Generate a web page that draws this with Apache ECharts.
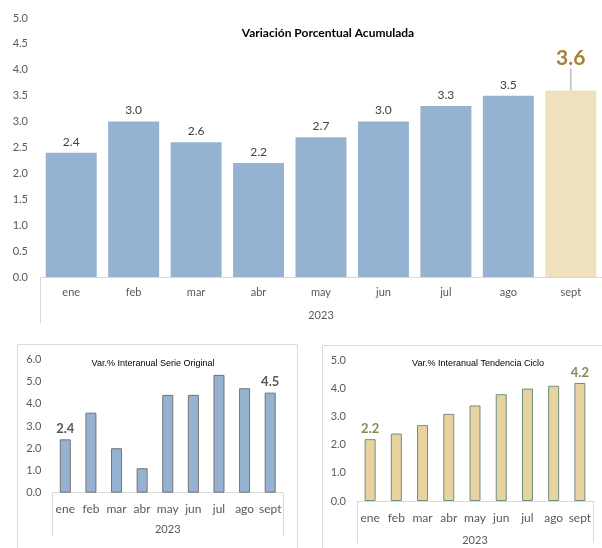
<!DOCTYPE html>
<html>
<head>
<meta charset="utf-8">
<script src="https://cdn.jsdelivr.net/npm/echarts@6/dist/echarts.min.js"></script>
<style>
  html, body { margin: 0; padding: 0; background: #fff; }
  #main { width: 602px; height: 548px; }
</style>
</head>
<body>
<div id="main"></div>
<script>
/* datos */
var meses = ['ene', 'feb', 'mar', 'abr', 'may', 'jun', 'jul', 'ago', 'sept'];
var anio = ['2023'];
var acumulada = [2.4, 3.0, 2.6, 2.2, 2.7, 3.0, 3.3, 3.5, 3.6];
var serieOriginal = [2.4, 3.6, 2.0, 1.1, 4.4, 4.4, 5.3, 4.7, 4.5];
var tendenciaCiclo = [2.2, 2.4, 2.7, 3.1, 3.4, 3.8, 4.0, 4.1, 4.2];

var fontMain = 'Lato, "Open Sans", sans-serif';
var fontSmall = '"Liberation Sans", Arial, sans-serif';
var gris = '#595959';
var linea = '#d9d9d9';
var ultimo = meses.length - 1;

/* etiqueta solo en el primero y el ultimo */
function extremos(color) {
    return {
        show: true,
        position: 'top',
        distance: 4,
        fontFamily: fontMain,
        fontSize: 13,
        fontWeight: 'bold',
        color: color,
        formatter: function (p) {
            return (p.dataIndex === 0 || p.dataIndex === ultimo) ? p.value.toFixed(1) : '';
        }
    };
}

function ejeMeses(grid, margin, size) {
    return {
        type: 'category',
        gridIndex: grid,
        data: meses,
        axisLine: { show: true, lineStyle: { color: linea } },
        axisTick: { show: false },
        axisLabel: { margin: margin, color: gris, fontSize: size, fontFamily: fontMain, interval: 0 }
    };
}

function ejeAnio(grid, tick, margin, size) {
    return {
        type: 'category',
        gridIndex: grid,
        position: 'bottom',
        data: anio,
        axisLine: { show: false },
        axisTick: { show: true, length: tick, lineStyle: { color: linea } },
        axisLabel: { margin: margin, color: gris, fontSize: size, fontFamily: fontMain }
    };
}

function ejeValor(grid, max, interval, margin) {
    return {
        type: 'value',
        gridIndex: grid,
        min: 0,
        max: max,
        interval: interval,
        axisLine: { show: false },
        axisTick: { show: false },
        splitLine: { show: false },
        axisLabel: {
            margin: margin,
            color: gris,
            fontSize: 11,
            fontFamily: fontMain,
            formatter: function (v) { return v.toFixed(1); }
        }
    };
}

var datosAcum = acumulada.map(function (v, i) {
    if (i !== ultimo) return v;
    return {
        value: v,
        itemStyle: { color: '#efe1bd' },
        label: { fontSize: 21, fontWeight: 'bold', color: '#a5823a' },
        labelLine: { show: true, lineStyle: { color: '#bfbfbf', width: 1.5 } }
    };
});

var option = {
    animation: false,
    backgroundColor: '#fff',
    title: [
        {
            text: 'Variación Porcentual Acumulada',
            left: 323, top: 22, textAlign: 'center',
            textStyle: { fontFamily: fontMain, fontSize: 12, fontWeight: 'bold', color: '#000' }
        },
        {
            text: 'Var.% Interanual Serie Original',
            left: 148, top: 354, textAlign: 'center',
            textStyle: { fontFamily: fontSmall, fontSize: 9, fontWeight: 'normal', color: '#000' }
        },
        {
            text: 'Var.% Interanual Tendencia Ciclo',
            left: 473, top: 354, textAlign: 'center',
            textStyle: { fontFamily: fontSmall, fontSize: 9, fontWeight: 'normal', color: '#000' }
        }
    ],
    graphic: [
        { type: 'rect', shape: { x: 17.5, y: 344.5, width: 280, height: 220 }, style: { fill: 'none', stroke: linea, lineWidth: 1 }, z: -1 },
        { type: 'rect', shape: { x: 322.5, y: 345.5, width: 300, height: 220 }, style: { fill: 'none', stroke: linea, lineWidth: 1 }, z: -1 }
    ],
    grid: [
        { left: 40, top: 18, width: 568, height: 259 },
        { left: 52.5, top: 359.3, width: 230.5, height: 133.4 },
        { left: 357, top: 360.5, width: 236, height: 140.5 }
    ],
    xAxis: [
        ejeMeses(0, 10, 11),
        ejeAnio(0, 46, 33, 11),
        ejeMeses(1, 10, 12),
        ejeAnio(1, 44, 31, 11),
        ejeMeses(2, 11, 12),
        ejeAnio(2, 42, 34, 11)
    ],
    yAxis: [
        ejeValor(0, 5, 0.5, 12),
        ejeValor(1, 6, 1, 11),
        ejeValor(2, 5, 1, 11)
    ],
    series: [
        {
            name: 'Acumulada',
            type: 'bar',
            xAxisIndex: 0,
            yAxisIndex: 0,
            barWidth: 51,
            itemStyle: { color: '#95b3d1' },
            label: {
                show: true,
                position: 'top',
                distance: 5,
                fontFamily: fontMain,
                fontSize: 12,
                color: '#404040',
                formatter: function (p) { return p.value.toFixed(1); }
            },
            labelLayout: function (p) {
                return p.dataIndex === ultimo ? { dy: -17 } : {};
            },
            data: datosAcum
        },
        {
            name: 'Serie Original',
            type: 'bar',
            xAxisIndex: 2,
            yAxisIndex: 1,
            barWidth: 11,
            itemStyle: { color: '#95b3d1', borderColor: '#737373', borderWidth: 1 },
            label: extremos('#595959'),
            data: serieOriginal
        },
        {
            name: 'Tendencia Ciclo',
            type: 'bar',
            xAxisIndex: 4,
            yAxisIndex: 2,
            barWidth: 11,
            itemStyle: { color: '#e8d29f', borderColor: '#6f8f7c', borderWidth: 1 },
            label: extremos('#7f8c5a'),
            data: tendenciaCiclo
        }
    ]
};

var chart = echarts.init(document.getElementById('main'));
chart.setOption(option);
</script>
</body>
</html>
